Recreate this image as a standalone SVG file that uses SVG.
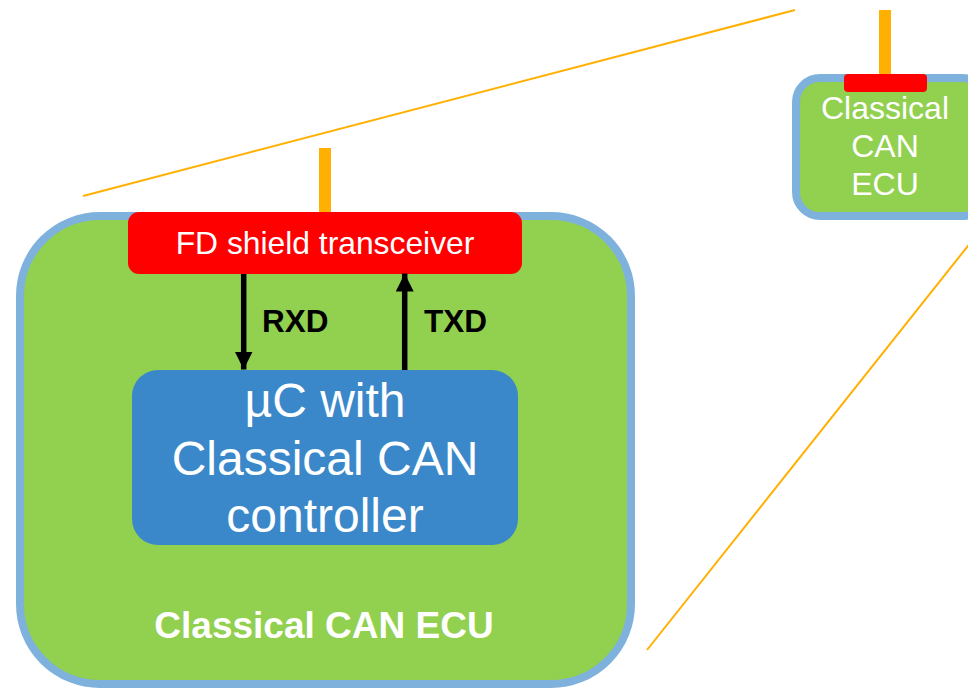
<svg xmlns="http://www.w3.org/2000/svg" width="968" height="688" viewBox="0 0 968 688">
<defs>
<style>
.ecu{fill:#92D050;stroke:#7EB2DD;stroke-width:8}
.bus{fill:#FFB000}
.zoom{stroke:#FFB000;stroke-width:2;fill:none}
.tx{fill:#FF0000}
.uc{fill:#3A88C9}
.wt{fill:#FFFFFF;font-family:"Liberation Sans",Arial,sans-serif;text-anchor:middle}
.bk{fill:#000000;font-family:"Liberation Sans",Arial,sans-serif;font-weight:bold}
.sig{stroke:#000000;stroke-width:5.5;fill:none}
</style>
<marker id="ah" viewBox="0 0 18 18" refX="18" refY="9" markerWidth="18" markerHeight="18" markerUnits="userSpaceOnUse" orient="auto">
<path d="M0,0 L18,9 L0,18 Z" fill="#000000"/>
</marker>
</defs>
<g id="zoom-lines">
<line class="zoom" x1="83" y1="196" x2="795" y2="10"/>
<line class="zoom" x1="647" y1="650" x2="975" y2="237"/>
</g>
<g id="small-ecu">
<rect class="bus" x="879" y="10" width="12" height="66"/>
<rect class="ecu" x="796" y="78" width="190" height="138" rx="24"/>
<rect class="tx" x="844" y="74" width="83" height="18" rx="4"/>
<text class="wt" font-size="32"><tspan x="885" y="119">Classical</tspan><tspan x="885" y="157">CAN</tspan><tspan x="885" y="195">ECU</tspan></text>
</g>
<g id="big-ecu">
<rect class="ecu" x="20" y="216" width="611" height="468" rx="80"/>
<text class="wt" font-size="37" font-weight="bold" x="324" y="638">Classical CAN ECU</text>
</g>
<g id="bus-stub">
<rect class="bus" x="319" y="148" width="12" height="66"/>
</g>
<g id="transceiver">
<rect class="tx" x="128" y="212" width="394" height="62" rx="11"/>
<text class="wt" font-size="31.8" x="325" y="254">FD shield transceiver</text>
</g>
<g id="controller">
<rect class="uc" x="132" y="370" width="386" height="175" rx="26"/>
<text class="wt" font-size="48"><tspan x="325" y="417">µC with</tspan><tspan x="325" y="475">Classical CAN</tspan><tspan x="325" y="532">controller</tspan></text>
</g>
<g id="connectors">
<line class="sig" x1="243.7" y1="274" x2="243.7" y2="369.5" marker-end="url(#ah)"/>
<line class="sig" x1="404.7" y1="370" x2="404.7" y2="273.5" marker-end="url(#ah)"/>
<text class="bk" font-size="31.5" x="262" y="332">RXD</text>
<text class="bk" font-size="31.5" x="424" y="332">TXD</text>
</g>
</svg>
